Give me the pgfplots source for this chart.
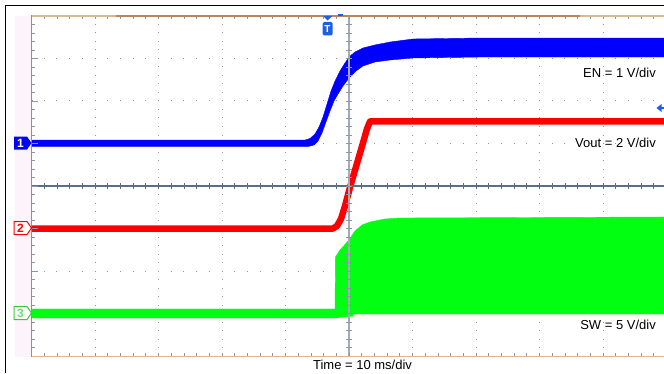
\documentclass[border=0pt]{standalone}
\usepackage{pgfplots}
\pgfplotsset{compat=1.18}
\usepackage{fontspec}
\setmainfont{Liberation Sans}
\definecolor{tanl}{HTML}{D9B898}
\definecolor{tand}{HTML}{B8865A}
\definecolor{pinkbg}{HTML}{FCF4FA}
\definecolor{gridc}{HTML}{8C96A8}
\definecolor{hcen}{HTML}{5E6D7F}
\definecolor{vcen}{HTML}{A3ABB8}
\definecolor{scblue}{HTML}{0000FF}
\definecolor{scred}{HTML}{FF0000}
\definecolor{scgreen}{HTML}{00FF10}
\definecolor{mkblue}{HTML}{1A5FE8}
\definecolor{mkgreen}{HTML}{3CC83C}
\begin{document}
\begin{tikzpicture}[x=1pt,y=1pt,every node/.style={font=\fontsize{13}{15}\selectfont}]
\path[use as bounding box] (0,0) rectangle (664,373);
% pink strip left of the graticule
\fill[pinkbg] (15,16.5) rectangle (31.5,357);
% outer black frame
\draw[black, line width=1.5pt] (5.5,0) -- (5.5,367.5) -- (664,367.5);
% dotted graticule
\foreach \k in {1,2,3,4,6,7,8,9} {
  \draw[gridc, line width=1pt, dash pattern=on 1pt off 7.5pt, dash phase=0.5pt] ({31.5+63.5*\k},17) -- ({31.5+63.5*\k},357);
}
\foreach \j in {1,2,3,5,6,7} {
  \draw[gridc, line width=1pt, dash pattern=on 1pt off 11.7pt, dash phase=0.5pt] (31.5,{17+42.5*\j}) -- (664,{17+42.5*\j});
}
\begin{axis}[at={(31.5pt,17pt)}, anchor=south west, scale only axis,
  width=632.5pt, height=340pt, xmin=-50, xmax=49.61, ymin=-4, ymax=4,
  axis lines=none, clip=true]
% CH3 SW (5 V/div), switching envelope
\addplot[fill=scgreen, draw=scgreen, line width=0.4pt] coordinates {
 (-50,-2.894) (-2.20,-2.894) (-2.13,-1.671) (-1.42,-1.506) (0,-1.271) (0.94,-1.059)
 (2.05,-0.918) (3.31,-0.847) (5.67,-0.776) (8.03,-0.753) (49.61,-0.729)
 (49.61,-3.012) (0.63,-3.012) (0.63,-3.059) (-2.20,-3.106) (-50,-3.106)
} -- cycle;
% CH2 Vout (2 V/div)
\addplot[scred, line width=6.5pt, line join=round] coordinates {
 (-50,-1.0) (-2.52,-1.0) (-1.89,-0.941) (-1.26,-0.776) (-0.63,-0.471) (0,-0.118)
 (0.63,0.212) (1.42,0.612) (2.20,1.012) (2.83,1.341) (3.31,1.518) (49.61,1.518)
};
% CH1 EN (1 V/div), noisy band: upper envelope then lower envelope
\addplot[fill=scblue, draw=scblue, line width=0.4pt, line join=round] coordinates {
 (-50,1.082) (-6.93,1.082) (-6.14,1.118) (-5.35,1.224) (-4.72,1.388) (-4.09,1.624)
 (-3.46,1.929) (-2.83,2.235) (-2.20,2.471) (-1.42,2.706) (-0.63,2.894) (0,3.035)
 (0.94,3.153) (2.20,3.247) (4.09,3.318) (6.46,3.388) (10.08,3.459) (20.63,3.482) (49.61,3.482)
 (49.61,3.035) (20.63,3.035) (10.08,3.012) (6.46,2.965) (4.09,2.918) (2.20,2.824)
 (1.10,2.706) (0,2.541) (-0.94,2.353) (-1.73,2.165) (-2.36,2.0) (-2.99,1.765)
 (-3.62,1.506) (-4.25,1.247) (-4.88,1.059) (-5.51,0.965) (-6.46,0.929) (-50,0.929)
} -- cycle;
\end{axis}
% centre lines with minor ticks
\draw[hcen, line width=1.2pt] (31.5,187) -- (664,187);
\foreach \i in {0,...,49} { \draw[hcen, line width=0.8pt] ({31.5+12.7*\i},184) -- ({31.5+12.7*\i},190); }
\draw[vcen, line width=2pt] (349,17) -- (349,357);
\foreach \j in {0,...,40} { \draw[gridc, line width=0.8pt] (346,{17+8.5*\j}) -- (352,{17+8.5*\j}); }
% border ticks
\foreach \j in {0,...,40} { \draw[gridc, line width=0.8pt] (31.5,{17+8.5*\j}) -- (35,{17+8.5*\j}); }
\foreach \j in {1,...,7} { \draw[gridc, line width=0.8pt] (31.5,{17+42.5*\j}) -- (38,{17+42.5*\j}); }
\foreach \i in {0,...,49} {
  \draw[gridc, line width=0.8pt] ({31.5+12.7*\i},357) -- ({31.5+12.7*\i},353.5);
  \draw[gridc, line width=0.8pt] ({31.5+12.7*\i},17) -- ({31.5+12.7*\i},20.5);
}
% borders
\draw[tanl, line width=1.5pt] (31.5,357) -- (664,357);
\draw[tand, line width=1.5pt] (116,357) -- (580,357);
\draw[tanl, line width=1.5pt] (31.5,16.5) -- (664,16.5);
\draw[tand, line width=1.5pt] (31.5,16.5) -- (31.5,357.5);
% channel markers
\fill[scblue] (14,236.5) -- (27,236.5) -- (31.5,230) -- (27,223.5) -- (14,223.5) -- cycle;
\node[text=white, inner sep=0, font=\fontsize{12}{12}\selectfont\bfseries] at (20.5,230) {1};
\draw[scred, fill=white, line width=1pt] (14,151.5) -- (27,151.5) -- (31.5,145) -- (27,138.5) -- (14,138.5) -- cycle;
\node[text=scred, inner sep=0, font=\fontsize{12}{12}\selectfont\bfseries] at (20.5,145) {2};
\draw[mkgreen, fill=white, line width=1pt] (14,66.5) -- (27,66.5) -- (31.5,60) -- (27,53.5) -- (14,53.5) -- cycle;
\node[text=scgreen!80!black!60, inner sep=0, font=\fontsize{12}{12}\selectfont\bfseries] at (20.5,60) {3};
% trigger markers
\fill[mkblue] (323,357) -- (332,357) -- (327.5,352.5) -- cycle;
\fill[mkblue, rounded corners=1.5pt] (322.5,351) rectangle (332.5,337.5);
\node[text=white, inner sep=0, font=\fontsize{10}{10}\selectfont\bfseries] at (327.5,344.2) {T};
\draw[mkblue, line width=1.5pt] (338,358) -- (343,358);
\fill[mkblue] (656.5,265) -- (661.5,269) -- (661.5,261) -- cycle;
\draw[mkblue, line width=1.5pt] (660,265) -- (664,265);
% labels
\node[anchor=base east, inner sep=0] at (656,295.7) {EN = 1 V/div};
\node[anchor=base east, inner sep=0] at (656,225.5) {Vout = 2 V/div};
\node[anchor=base east, inner sep=0] at (656,43.7) {SW = 5 V/div};
\node[anchor=base, inner sep=0] at (362.5,3.2) {Time = 10 ms/div};
\end{tikzpicture}
\end{document}
